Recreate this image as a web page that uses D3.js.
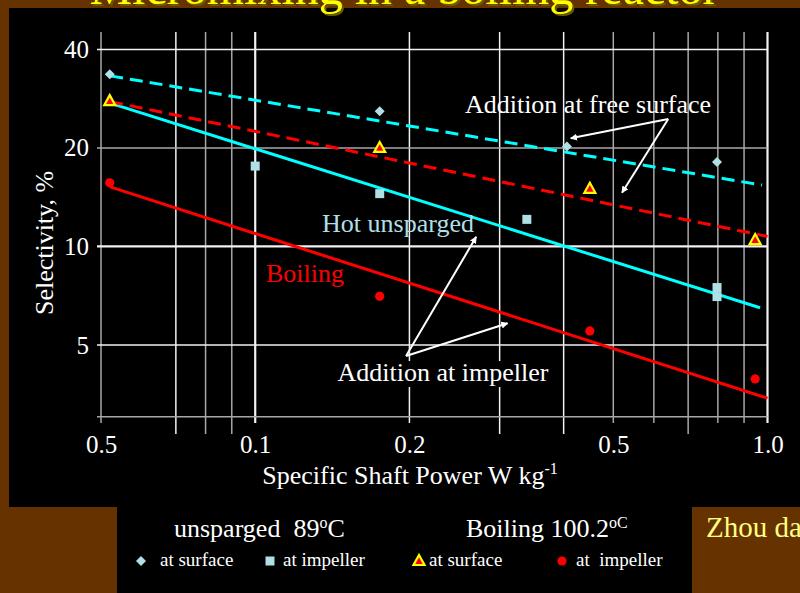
<!DOCTYPE html>
<html>
<head>
<meta charset="utf-8">
<script src="https://cdn.jsdelivr.net/npm/d3@7"></script>
<style>
  body { margin: 0; background: #663300; }
  svg { display: block; font-family: "Liberation Serif", "Times New Roman", serif; }
  text { white-space: pre; }
</style>
</head>
<body>
<div id="chart"></div>
<script>
// x = specific shaft power (W/kg), y = selectivity (%)
const unspSurfX = [0.052, 0.175, 0.406, 0.797];
const unspSurfY = [33.6, 25.9, 20.2, 18.1];
const unspImpX = [0.1, 0.175, 0.339, 0.797, 0.797];
const unspImpY = [17.6, 14.5, 12.1, 7.49, 7.03];
const boilSurfX = [0.052, 0.175, 0.45, 0.946];
const boilSurfY = [27.8, 20.0, 15.0, 10.46];
const boilImpX = [0.052, 0.175, 0.45, 0.946];
const boilImpY = [15.65, 7.04, 5.52, 3.94];

// fitted trend lines, start and end point
const unspSurfFit = [[0.0521, 33.2], [0.976, 15.4]];
const unspImpFit = [[0.0521, 27.4], [0.967, 6.50]];
const boilSurfFit = [[0.0521, 27.7], [1.0, 10.73]];
const boilImpFit = [[0.0521, 15.2], [1.0, 3.44]];

// axis ticks (first label really reads "0.5" in the original)
const xTicks = [0.05, 0.1, 0.2, 0.5, 1.0];
const xTickLabels = ["0.5", "0.1", "0.2", "0.5", "1.0"];
const yTicks = [5, 10, 20, 40];
const yTickLabels = ["5", "10", "20", "40"];
const xGrid = [0.05, 0.07, 0.08, 0.09, 0.1, 0.2, 0.3, 0.4, 0.5, 0.6, 0.7, 0.8, 0.9, 1.0];
const yGrid = [3.02, 5, 10, 20, 40];

// arrows: [from, to] in data units
const surfArrows = [[[0.64, 24.5], [0.413, 21.4]], [[0.64, 24.5], [0.52, 14.6]]];
const impArrows = [[[0.197, 4.63], [0.27, 10.7]], [[0.197, 4.63], [0.311, 5.83]]];

const lightBlue = "#b0dfe5";
const cyan = "#00ffff";
const red = "#ff0000";

const svg = d3.select("#chart").append("svg")
  .attr("width", 800)
  .attr("height", 593);

const defs = svg.append("defs");
defs.append("marker")
  .attr("id", "head")
  .attr("viewBox", "0 0 10 10")
  .attr("refX", 9).attr("refY", 5)
  .attr("markerWidth", 7).attr("markerHeight", 7)
  .attr("markerUnits", "userSpaceOnUse")
  .attr("orient", "auto")
  .append("path")
  .attr("d", "M0,0 L10,5 L0,10 Z")
  .attr("fill", "#fff");
defs.append("filter")
  .attr("id", "shadow")
  .append("feDropShadow")
  .attr("dx", 2).attr("dy", 2).attr("stdDeviation", 0.5)
  .attr("flood-color", "#6a5a00");

// background panels
svg.append("rect").attr("x", 9).attr("y", 8).attr("width", 791).attr("height", 499).attr("fill", "#000");
svg.append("rect").attr("x", 117).attr("y", 507).attr("width", 575).attr("height", 86).attr("fill", "#000");

const x = d3.scaleLog().domain([0.05, 1.0]).range([101, 767.5]);
const y = d3.scaleLog().domain([3.02, 45.2]).range([416.7, 32]);

const bright = [0.07, 0.1, 0.2, 0.3, 0.4, 1.0];
const longTick = [0.07, 0.08, 0.09, 0.3, 0.4, 0.7];

// vertical grid
svg.append("g").selectAll("line")
  .data(xGrid)
  .enter().append("line")
  .attr("x1", d => x(d)).attr("x2", d => x(d))
  .attr("y1", 32)
  .attr("y2", d => longTick.includes(d) ? 434 : 423)
  .attr("stroke", d => bright.includes(d) ? "#f2f2f2" : "#a8a8a8")
  .attr("stroke-width", d => (d === 0.1 || d === 1.0) ? 2.2 : 1.5);

// horizontal grid
svg.append("g").selectAll("line")
  .data(yGrid)
  .enter().append("line")
  .attr("x1", 97).attr("x2", x(1.0))
  .attr("y1", d => y(d)).attr("y2", d => y(d))
  .attr("stroke", d => (d === 20 || d === 3.02) ? "#a8a8a8" : "#f2f2f2")
  .attr("stroke-width", d => d === 10 ? 2.2 : 1.5);

// tick labels
const xAxis = svg.append("g")
  .attr("transform", "translate(0," + y(3.02) + ")")
  .call(d3.axisBottom(x).tickValues(xTicks).tickSize(0).tickPadding(19)
    .tickFormat((d, i) => xTickLabels[i]));
const yAxis = svg.append("g")
  .attr("transform", "translate(101,0)")
  .call(d3.axisLeft(y).tickValues(yTicks).tickSize(0).tickPadding(12)
    .tickFormat((d, i) => yTickLabels[i]));
[xAxis, yAxis].forEach(a => {
  a.select(".domain").remove();
  a.selectAll("text")
    .attr("fill", "#fff")
    .style("font-family", "Liberation Serif")
    .style("font-size", "25px");
});

// axis titles
const xt = svg.append("text")
  .attr("x", 410).attr("y", 484)
  .attr("text-anchor", "middle")
  .attr("fill", "#fff")
  .style("font-size", "26px");
xt.append("tspan").text("Specific Shaft Power W kg");
xt.append("tspan").attr("dy", -10).style("font-size", "16px").text("-1");

svg.append("text")
  .attr("transform", "translate(53,243) rotate(-90)")
  .attr("text-anchor", "middle")
  .attr("fill", "#fff")
  .style("font-size", "26px")
  .text("Selectivity, %");

// trend lines
const line = d3.line().x(d => x(d[0])).y(d => y(d[1]));
[[unspSurfFit, cyan, "13,7"], [unspImpFit, cyan, null],
 [boilSurfFit, red, "13,7"], [boilImpFit, red, null]].forEach(([pts, col, dash]) => {
  svg.append("path")
    .attr("d", line(pts))
    .attr("fill", "none")
    .attr("stroke", col)
    .attr("stroke-width", 3)
    .attr("stroke-dasharray", dash);
});

// marker drawing
function drawMarker(g, type, cx, cy) {
  if (type === "diamond") {
    g.append("path")
      .attr("d", `M${cx},${cy - 5}L${cx + 5},${cy}L${cx},${cy + 5}L${cx - 5},${cy}Z`)
      .attr("fill", lightBlue);
  } else if (type === "square") {
    g.append("rect")
      .attr("x", cx - 4.5).attr("y", cy - 4.5)
      .attr("width", 9).attr("height", 9)
      .attr("fill", lightBlue);
  } else if (type === "triangle") {
    g.append("path")
      .attr("d", `M${cx},${cy - 6}L${cx + 5.5},${cy + 4}L${cx - 5.5},${cy + 4}Z`)
      .attr("fill", red)
      .attr("stroke", "#ffff00")
      .attr("stroke-width", 2.2)
      .attr("stroke-linejoin", "miter");
  } else {
    g.append("circle")
      .attr("cx", cx).attr("cy", cy).attr("r", 4.6)
      .attr("fill", red);
  }
}

const pts = svg.append("g");
unspSurfX.forEach((v, i) => drawMarker(pts, "diamond", x(v), y(unspSurfY[i])));
unspImpX.forEach((v, i) => drawMarker(pts, "square", x(v), y(unspImpY[i])));
boilSurfX.forEach((v, i) => drawMarker(pts, "triangle", x(v), y(boilSurfY[i])));
boilImpX.forEach((v, i) => drawMarker(pts, "circle", x(v), y(boilImpY[i])));

// annotations
function label(txt, tx, ty, col, anchor) {
  return svg.append("text")
    .attr("x", tx).attr("y", ty)
    .attr("text-anchor", anchor || "middle")
    .attr("fill", col)
    .style("font-size", "26px")
    .text(txt);
}
label("Addition at free surface", 588, 113, "#fff");
label("Hot unsparged", 398, 232, lightBlue);
label("Boiling", 266, 282, red, "start");

const impBg = svg.append("rect").attr("fill", "#000");
const impText = label("Addition at impeller", 443, 381, "#fff");
const bb = impText.node().getBBox();
impBg.attr("x", bb.x - 3).attr("y", bb.y + 3)
  .attr("width", bb.width + 6).attr("height", bb.height - 3);

surfArrows.concat(impArrows).forEach(([a, b]) => {
  svg.append("line")
    .attr("x1", x(a[0])).attr("y1", y(a[1]))
    .attr("x2", x(b[0])).attr("y2", y(b[1]))
    .attr("stroke", "#fff")
    .attr("stroke-width", 2)
    .attr("marker-end", "url(#head)");
});

// legend
const leg = svg.append("g").attr("fill", "#fff");
const l1 = leg.append("text").attr("x", 174).attr("y", 537).style("font-size", "26px");
l1.append("tspan").text("unsparged  89");
l1.append("tspan").attr("dy", -9).style("font-size", "16px").text("o");
l1.append("tspan").attr("dy", 9).text("C");
const l2 = leg.append("text").attr("x", 466).attr("y", 537).style("font-size", "26px");
l2.append("tspan").text("Boiling 100.2");
l2.append("tspan").attr("dy", -9).style("font-size", "16px").text("oC");

const legItems = [
  { type: "diamond", mx: 141, tx: 160, text: "at surface" },
  { type: "square", mx: 270, tx: 283, text: "at impeller" },
  { type: "triangle", mx: 419, tx: 429, text: "at surface" },
  { type: "circle", mx: 562, tx: 576, text: "at  impeller" }
];
legItems.forEach(d => {
  drawMarker(leg, d.type, d.mx, 561);
  leg.append("text").attr("x", d.tx).attr("y", 566)
    .style("font-size", "19px").text(d.text);
});

svg.append("text")
  .attr("x", 706).attr("y", 537)
  .attr("fill", "#ffff80")
  .style("font-size", "29px")
  .text("Zhou data");

// title, cut off by the top edge
svg.append("text")
  .attr("x", 404).attr("y", 4)
  .attr("text-anchor", "middle")
  .attr("fill", "#ffff00")
  .attr("filter", "url(#shadow)")
  .style("font-size", "48px")
  .text("Micromixing in a boiling reactor");
</script>
</body>
</html>
